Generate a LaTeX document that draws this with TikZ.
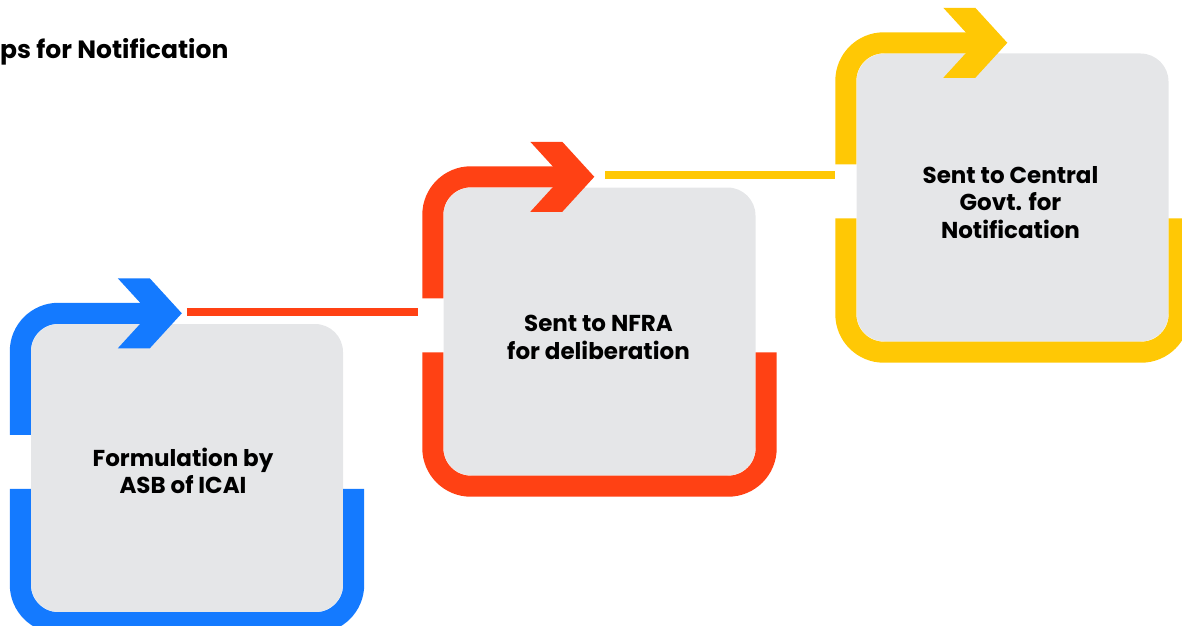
\documentclass[tikz,border=0pt]{standalone}
\usepackage{fontspec}
\setmainfont{Poppins}
\usetikzlibrary{calc}
\definecolor{cblue}{RGB}{20,122,255}
\definecolor{cred}{RGB}{255,65,20}
\definecolor{cyel}{RGB}{255,200,5}
\definecolor{cgray}{RGB}{229,230,232}
\tikzset{
  graybox/.style={fill=cgray, draw=none, rounded corners=28pt, minimum width=312pt, minimum height=288pt, inner sep=0pt},
  steptext/.style={inner sep=0pt, align=center, font=\fontsize{23}{27.5}\selectfont\bfseries},
  band/.style={line width=21pt, rounded corners=38pt, line cap=butt},
  link/.style={line width=8pt, line cap=butt},
  title/.style={font=\fontsize{25}{30}\selectfont\bfseries, inner sep=0pt, anchor=base west}
}
\newcommand\stepframe[2]{%
  \draw[band, #2] ($(#1.north west)+(-10.5,-111)$) -- ($(#1.north west)+(-10.5,10.5)$) -- ($(#1.north west)+(122,10.5)$);
  \draw[band, #2] ($(#1.north west)+(-10.5,-165)$) -- ($(#1.south west)+(-10.5,-10.5)$) -- ($(#1.south east)+(10.5,-10.5)$) -- ($(#1.north east)+(10.5,-165)$);
  \fill[#2] ($(#1.north west)+(87,45.5)$) -- ($(#1.north west)+(119,45.5)$) -- ($(#1.north west)+(151,10.5)$) -- ($(#1.north west)+(119,-24.5)$) -- ($(#1.north west)+(87,-24.5)$) -- ($(#1.north west)+(119,10.5)$) -- cycle;
}
\begin{document}
\begin{tikzpicture}[x=1pt,y=1pt]
\useasboundingbox (0,0) rectangle (1182,625);
\node[title] (ttl) at (0,566) {ps for Notification};
\node[graybox] (b1) at (187,157) {};
\node[graybox] (b2) at (599.5,293.5) {};
\node[graybox] (b3) at (1012.5,427.5) {};
\node[steptext] (t1) at ($(b1.center)+(-4,-3)$) {Formulation by\\ASB of ICAI};
\node[steptext] (t2) at ($(b2.center)+(-1,-6)$) {Sent to NFRA\\for deliberation};
\node[steptext] (t3) at ($(b3.center)+(-2,-5)$) {Sent to Central\\Govt. for\\Notification};
\stepframe{b1}{cblue}
\stepframe{b2}{cred}
\stepframe{b3}{cyel}
\coordinate (o1) at ($(b1.north west)+(156,11.5)$);
\coordinate (i2) at ($(b2.west)+(-25,0)$);
\coordinate (o2) at ($(b2.north west)+(162,12.5)$);
\coordinate (i3) at ($(b3.west)+(-21,0)$);
\draw[link, cred] (o1) -- (o1 -| i2);
\draw[link, cyel] (o2) -- (o2 -| i3);
\end{tikzpicture}
\end{document}
